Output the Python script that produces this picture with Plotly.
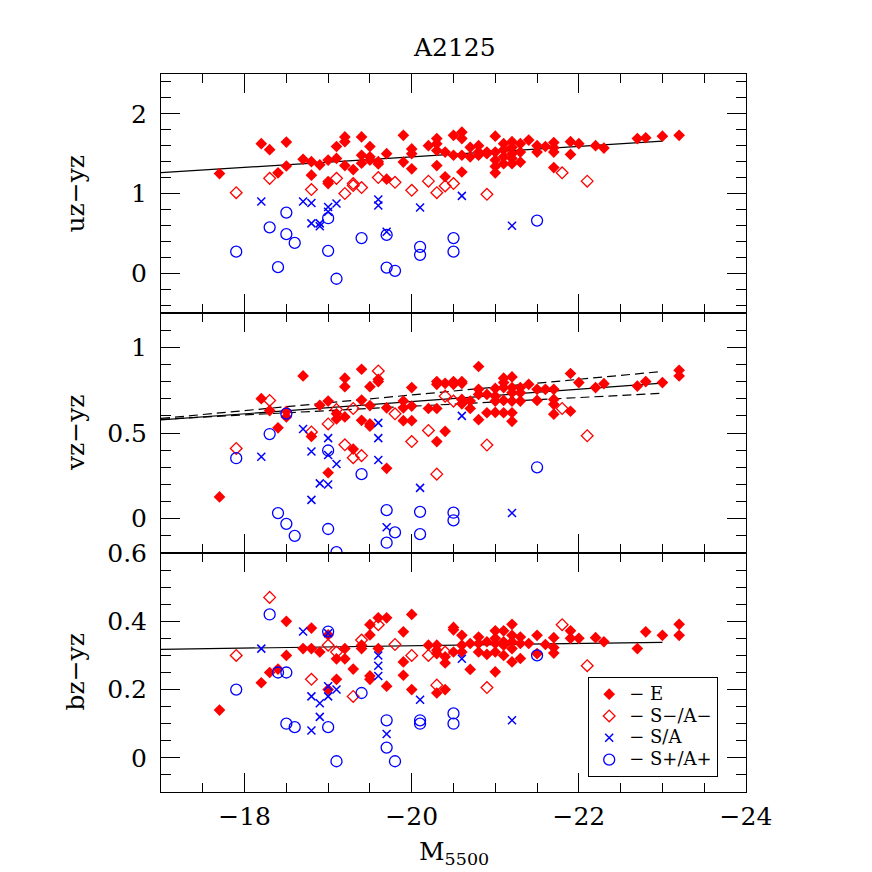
import plotly.graph_objects as go

# ---------------- data ----------------
# Top panel: uz-yz
E_uz_x = [-17.7, -18.2, -18.3, -18.4, -18.5, -18.5, -18.7, -18.8, -18.8, -18.9, -19.0, -19.0, -19.0,
          -19.1, -19.1, -19.2, -19.2, -19.2, -19.3, -19.4, -19.4, -19.4, -19.5, -19.5, -19.5, -19.6,
          -19.6, -19.7, -19.7, -19.9, -19.9, -20.0, -20.0, -20.0, -20.2, -20.3, -20.3, -20.3, -20.3,
          -20.4, -20.4, -20.5, -20.5, -20.6, -20.6, -20.6, -20.6, -20.7, -20.7, -20.8, -20.8, -20.8,
          -20.9, -20.9, -21.0, -21.0, -21.0, -21.0, -21.0, -21.1, -21.1, -21.1, -21.1, -21.2, -21.2,
          -21.2, -21.2, -21.2, -21.3, -21.3, -21.3, -21.4, -21.5, -21.5, -21.6, -21.7, -21.7, -21.7,
          -21.7, -21.9, -21.9, -22.0, -22.2, -22.3, -22.7, -22.8, -23.0, -23.2]
E_uz = [1.25, 1.625, 1.55, 1.26, 1.645, 1.345, 1.43, 1.40, 1.23, 1.36, 1.42, 1.15, 1.125,
        1.44, 1.59, 1.71, 1.65, 1.35, 1.30, 1.71, 1.48, 1.38, 1.59, 1.46, 1.42, 1.40,
        1.37, 1.50, 1.18, 1.73, 1.395, 1.56, 1.50, 1.31, 1.60, 1.69, 1.625, 1.54, 1.35,
        1.52, 1.21, 1.73, 1.48, 1.77, 1.69, 1.48, 1.27, 1.58, 1.46, 1.60, 1.52, 1.48,
        1.52, 1.50, 1.72, 1.52, 1.42, 1.34, 1.26, 1.625, 1.55, 1.46, 1.375, 1.65, 1.58,
        1.50, 1.44, 1.375, 1.625, 1.52, 1.395, 1.67, 1.60, 1.52, 1.59, 1.64, 1.575, 1.52,
        1.325, 1.65, 1.49, 1.625, 1.60, 1.57, 1.69, 1.70, 1.72, 1.73]
Sm_uz_x = [-17.9, -18.3, -18.8, -19.1, -19.2, -19.3, -19.3, -19.4, -19.6, -19.8, -20.0, -20.2,
           -20.3, -20.4, -20.5, -20.9, -21.8, -22.1]
Sm_uz = [1.01, 1.19, 1.05, 1.19, 1.00, 1.125, 1.10, 1.075, 1.20, 1.14, 1.04, 1.155,
         1.01, 1.095, 1.125, 0.99, 1.26, 1.155]
S_uz_x = [-18.2, -18.7, -18.8, -18.8, -18.9, -18.9, -19.0, -19.0, -19.1, -19.6, -19.6, -19.7,
          -20.1, -20.6, -21.2]
S_uz = [0.90, 0.90, 0.88, 0.625, 0.625, 0.59, 0.83, 0.77, 0.875, 0.925, 0.85, 0.52,
        0.825, 0.97, 0.595]
Sp_uz_x = [-17.9, -18.3, -18.4, -18.5, -18.5, -18.6, -19.0, -19.0, -19.1, -19.4, -19.7, -19.7,
           -19.8, -20.1, -20.1, -20.5, -20.5, -21.5]
Sp_uz = [0.27, 0.575, 0.075, 0.76, 0.49, 0.38, 0.28, 0.69, -0.07, 0.44, 0.48, 0.07,
         0.03, 0.33, 0.23, 0.44, 0.27, 0.66]

# Middle panel: vz-yz
E_vz_x = [-17.7, -18.2, -18.3, -18.4, -18.5, -18.5, -18.7, -18.8, -18.9, -19.0, -19.0, -19.1,
          -19.1, -19.2, -19.2, -19.2, -19.3, -19.4, -19.4, -19.4, -19.5, -19.5, -19.5, -19.5,
          -19.6, -19.6, -19.7, -19.7, -19.9, -19.9, -19.9, -20.0, -20.0, -20.0, -20.2, -20.3,
          -20.3, -20.3, -20.3, -20.4, -20.4, -20.5, -20.5, -20.6, -20.6, -20.6, -20.6, -20.7,
          -20.7, -20.8, -20.8, -20.8, -20.8, -20.9, -20.9, -21.0, -21.0, -21.0, -21.0, -21.1,
          -21.1, -21.1, -21.1, -21.1, -21.2, -21.2, -21.2, -21.2, -21.2, -21.2, -21.3, -21.3,
          -21.3, -21.4, -21.5, -21.5, -21.6, -21.7, -21.7, -21.7, -21.7, -21.9, -21.9, -22.0,
          -22.2, -22.3, -22.7, -22.8, -23.0, -23.2, -23.2]
E_vz = [0.127, 0.70, 0.631, 0.53, 0.627, 0.594, 0.833, 0.48, 0.662, 0.686, 0.268, 0.613,
        0.582, 0.82, 0.77, 0.594, 0.406, 0.872, 0.692, 0.574, 0.77, 0.66, 0.553, 0.54,
        0.813, 0.80, 0.647, 0.294, 0.686, 0.647, 0.572, 0.765, 0.657, 0.572, 0.643, 0.80,
        0.784, 0.643, 0.45, 0.79, 0.51, 0.80, 0.784, 0.80, 0.79, 0.696, 0.67, 0.686,
        0.643, 0.888, 0.755, 0.725, 0.578, 0.725, 0.618, 0.76, 0.715, 0.686, 0.62, 0.82,
        0.794, 0.765, 0.69, 0.618, 0.827, 0.765, 0.735, 0.686, 0.618, 0.568, 0.765, 0.735,
        0.686, 0.784, 0.755, 0.69, 0.755, 0.755, 0.696, 0.667, 0.61, 0.847, 0.627, 0.794,
        0.765, 0.788, 0.774, 0.80, 0.794, 0.866, 0.833]
Sm_vz_x = [-17.9, -18.3, -18.8, -19.0, -19.1, -19.2, -19.3, -19.3, -19.4, -19.6, -19.8, -20.0,
           -20.2, -20.3, -20.4, -20.5, -20.9, -21.8, -22.1]
Sm_vz = [0.41, 0.69, 0.506, 0.553, 0.637, 0.431, 0.643, 0.356, 0.368, 0.862, 0.612, 0.45,
         0.515, 0.26, 0.715, 0.686, 0.43, 0.643, 0.484]
S_vz_x = [-18.2, -18.7, -18.8, -18.8, -18.9, -19.0, -19.0, -19.0, -19.1, -19.6, -19.6, -19.6,
          -19.7, -20.1, -20.6, -21.2]
S_vz = [0.362, 0.523, 0.392, 0.11, 0.206, 0.47, 0.372, 0.20, 0.319, 0.559, 0.47, 0.343,
        -0.05, 0.18, 0.60, 0.033]
Sp_vz_x = [-17.9, -18.3, -18.4, -18.5, -18.5, -18.6, -19.0, -19.0, -19.1, -19.4, -19.7, -19.7,
           -19.8, -20.1, -20.1, -20.5, -20.5, -21.5]
Sp_vz = [0.353, 0.494, 0.033, 0.613, -0.03, -0.10, 0.398, -0.06, -0.195, 0.26, 0.05, -0.14,
         -0.08, 0.04, -0.09, 0.035, -0.01, 0.30]

# Bottom panel: bz-yz
E_bz_x = [-17.7, -18.2, -18.3, -18.4, -18.5, -18.5, -18.7, -18.8, -18.8, -18.9, -19.0, -19.0,
          -19.1, -19.1, -19.2, -19.2, -19.3, -19.4, -19.4, -19.5, -19.5, -19.5, -19.5, -19.6,
          -19.6, -19.7, -19.7, -19.9, -19.9, -19.9, -20.0, -20.0, -20.2, -20.3, -20.3, -20.3,
          -20.3, -20.4, -20.4, -20.4, -20.5, -20.5, -20.5, -20.6, -20.6, -20.6, -20.7, -20.7,
          -20.8, -20.8, -20.8, -20.9, -20.9, -21.0, -21.0, -21.0, -21.0, -21.0, -21.1, -21.1,
          -21.1, -21.1, -21.2, -21.2, -21.2, -21.2, -21.2, -21.3, -21.3, -21.3, -21.4, -21.5,
          -21.5, -21.6, -21.7, -21.7, -21.7, -21.9, -21.9, -22.0, -22.2, -22.3, -22.7, -22.8,
          -23.0, -23.2, -23.2]
E_bz = [0.14, 0.22, 0.25, 0.26, 0.40, 0.30, 0.32, 0.38, 0.32, 0.31, 0.36, 0.20,
        0.29, 0.23, 0.32, 0.29, 0.26, 0.33, 0.32, 0.39, 0.36, 0.24, 0.23, 0.41,
        0.32, 0.41, 0.21, 0.369, 0.281, 0.242, 0.42, 0.20, 0.33, 0.33, 0.315, 0.305,
        0.19, 0.296, 0.278, 0.20, 0.382, 0.375, 0.31, 0.359, 0.33, 0.31, 0.335, 0.259,
        0.354, 0.335, 0.31, 0.34, 0.303, 0.372, 0.35, 0.335, 0.31, 0.252, 0.372, 0.34,
        0.33, 0.30, 0.391, 0.359, 0.34, 0.32, 0.281, 0.354, 0.335, 0.291, 0.335, 0.359,
        0.305, 0.332, 0.352, 0.323, 0.307, 0.372, 0.35, 0.35, 0.352, 0.34, 0.32, 0.369,
        0.359, 0.391, 0.359]
Sm_bz_x = [-17.9, -18.3, -18.8, -19.0, -19.1, -19.3, -19.4, -19.6, -19.8, -20.0, -20.2, -20.3,
           -20.4, -20.9, -21.8, -22.1]
Sm_bz = [0.30, 0.47, 0.23, 0.33, 0.31, 0.18, 0.345, 0.39, 0.332, 0.30, 0.30, 0.213,
         0.31, 0.206, 0.39, 0.27]
S_bz_x = [-18.2, -18.7, -18.8, -18.8, -18.9, -18.9, -19.0, -19.0, -19.0, -19.1, -19.6, -19.6,
          -19.6, -19.7, -20.1, -20.6, -21.2]
S_bz = [0.32, 0.37, 0.18, 0.08, 0.16, 0.12, 0.365, 0.21, 0.18, 0.20, 0.30, 0.27,
        0.24, 0.07, 0.17, 0.29, 0.11]
Sp_bz_x = [-17.9, -18.3, -18.4, -18.5, -18.5, -18.6, -19.0, -19.0, -19.1, -19.4, -19.7, -19.7,
           -19.8, -20.1, -20.1, -20.5, -20.5, -21.5]
Sp_bz = [0.20, 0.42, 0.25, 0.25, 0.10, 0.09, 0.37, 0.09, -0.01, 0.19, 0.11, 0.03,
         -0.01, 0.11, 0.10, 0.13, 0.10, 0.30]

# Fitted relations
fit_x = [-17.0, -23.0]
fit_uz = [1.262, 1.658]
fit_vz = [0.576, 0.791]
fit_vz_hi = [0.585, 0.859]
fit_vz_lo = [0.580, 0.732]
fit_bz = [0.318, 0.3385]

class_names = ["\u2212 E", "\u2212 S\u2212/A\u2212", "\u2212 S/A", "\u2212 S+/A+"]
panel_titles = ["uz\u2212yz", "vz\u2212yz", "bz\u2212yz"]
title_text = "A2125"
xlabel_text = "M<sub>5500</sub>"

# ---------------- figure ----------------
OFF = 8          # page body margin of the browser
W = H = 872 - OFF
FONT = "DejaVu Serif"
RED = "#ff0000"
BLUE = "#0000ff"


def px(v):
    return (v - OFF) / W


def py(v):
    return 1 - (v - OFF) / H


x_dom = [px(161), px(746)]
y_doms = [[py(313), py(74)], [py(553), py(313)], [py(792), py(553)]]

styles = [
    dict(symbol="diamond", size=9, color=RED, line=dict(width=0, color=RED)),
    dict(symbol="diamond-open", size=9, color=RED, line=dict(width=1.3, color=RED)),
    dict(symbol="x-thin-open", size=8, color=BLUE, line=dict(width=1.5, color=BLUE)),
    dict(symbol="circle-open", size=11, color=BLUE, line=dict(width=1.3, color=BLUE)),
]

panels = [
    [(E_uz_x, E_uz), (Sm_uz_x, Sm_uz), (S_uz_x, S_uz), (Sp_uz_x, Sp_uz)],
    [(E_vz_x, E_vz), (Sm_vz_x, Sm_vz), (S_vz_x, S_vz), (Sp_vz_x, Sp_vz)],
    [(E_bz_x, E_bz), (Sm_bz_x, Sm_bz), (S_bz_x, S_bz), (Sp_bz_x, Sp_bz)],
]

fig = go.Figure()

line_sets = [
    [(fit_uz, "solid")],
    [(fit_vz, "solid"), (fit_vz_hi, "9px,5px"), (fit_vz_lo, "9px,5px")],
    [(fit_bz, "solid")],
]

LEG_TXT = 18
for i in range(3):
    xa = "x" if i == 0 else f"x{i+1}"
    ya = "y" if i == 0 else f"y{i+1}"
    for yy, dash in line_sets[i]:
        fig.add_trace(go.Scatter(x=fit_x, y=yy, mode="lines", xaxis=xa, yaxis=ya,
                                 line=dict(color="black", width=1.2, dash=dash),
                                 showlegend=False, hoverinfo="skip"))
    for k, (xs, ys) in enumerate(panels[i]):
        fig.add_trace(go.Scatter(
            x=xs, y=ys, mode="markers", xaxis=xa, yaxis=ya,
            marker=styles[k],
            name=f"<span style='font-size:{LEG_TXT}px'>{class_names[k]}</span>",
            showlegend=(i == 2)))

common_tick = dict(ticks="inside", tickcolor="black", tickwidth=1, showline=True,
                   linecolor="black", linewidth=1, mirror="ticks", showgrid=False,
                   zeroline=False, tickfont=dict(family=FONT, size=25, color="black"),
                   automargin=False)

x_range = [-16.9999, -24.0001]
y_specs = [
    dict(range=[-0.5, 2.5], dtick=1, minor_dtick=0.2),
    dict(range=[-0.2, 1.2], dtick=0.5, minor_dtick=0.1),
    dict(range=[-0.1, 0.60001], dtick=0.2, minor_dtick=0.05),
]

layout_axes = {}
for i in range(3):
    xkey = "xaxis" if i == 0 else f"xaxis{i+1}"
    ykey = "yaxis" if i == 0 else f"yaxis{i+1}"
    anchor_y = "y" if i == 0 else f"y{i+1}"
    anchor_x = "x" if i == 0 else f"x{i+1}"
    layout_axes[xkey] = dict(domain=x_dom, anchor=anchor_y, range=x_range,
                             tickmode="linear", tick0=0, dtick=2, ticklen=19,
                             minor=dict(ticks="inside", dtick=0.5, tick0=0, ticklen=9,
                                        tickcolor="black", tickwidth=1),
                             showticklabels=(i == 2), ticklabelstandoff=2,
                             **common_tick)
    s = y_specs[i]
    layout_axes[ykey] = dict(domain=y_doms[i], anchor=anchor_x, range=s["range"],
                             tickmode="linear", tick0=0, dtick=s["dtick"], ticklen=19,
                             minor=dict(ticks="inside", dtick=s["minor_dtick"], tick0=0,
                                        ticklen=10, tickcolor="black", tickwidth=1),
                             ticklabelstandoff=8, **common_tick)

annotations = [
    dict(text=title_text, x=px(454), y=py(48), xref="paper", yref="paper",
         showarrow=False, font=dict(family=FONT, size=25, color="black"),
         xanchor="center", yanchor="middle"),
    dict(text=xlabel_text, x=px(454), y=py(853), xref="paper", yref="paper",
         showarrow=False, font=dict(family=FONT, size=25, color="black"),
         xanchor="center", yanchor="middle"),
]
for i, t in enumerate(panel_titles):
    yc = [193.5, 433, 672.5][i]
    annotations.append(dict(text=t, x=px(75), y=py(yc), xref="paper", yref="paper",
                            showarrow=False, textangle=-90,
                            font=dict(family=FONT, size=25, color="black"),
                            xanchor="center", yanchor="middle"))

fig.update_layout(
    width=W, height=H,
    margin=dict(l=0, r=0, t=0, b=0),
    paper_bgcolor="white", plot_bgcolor="white",
    annotations=annotations,
    legend=dict(x=px(588), y=py(677), xanchor="left", yanchor="top",
                bgcolor="white", bordercolor="black", borderwidth=1.2,
                font=dict(family=FONT, size=14.5, color="black"),
                itemwidth=30, tracegroupgap=0),
    **layout_axes,
)

fig.write_html("out.html")
